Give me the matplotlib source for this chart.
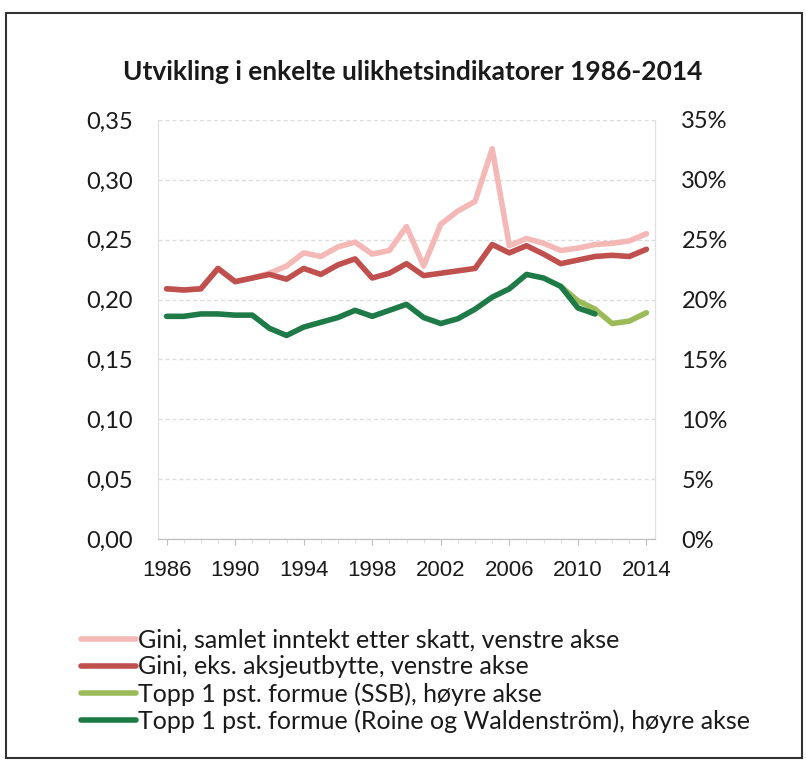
import matplotlib.pyplot as plt
import matplotlib.ticker as mticker
from matplotlib.patches import Rectangle

# Data
years = list(range(1986, 2015))
gini_total = [0.209, 0.208, 0.209, 0.226, 0.215, 0.218, 0.222, 0.228, 0.239, 0.236,
              0.244, 0.248, 0.238, 0.241, 0.261, 0.228, 0.263, 0.274, 0.282, 0.326,
              0.245, 0.251, 0.247, 0.241, 0.243, 0.246, 0.247, 0.249, 0.255]
gini_ex_div = [0.209, 0.208, 0.209, 0.226, 0.215, 0.218, 0.221, 0.217, 0.226, 0.221,
               0.229, 0.234, 0.218, 0.222, 0.230, 0.220, 0.222, 0.224, 0.226, 0.246,
               0.239, 0.245, 0.238, 0.230, 0.233, 0.236, 0.237, 0.236, 0.242]
ssb_years = list(range(2009, 2015))
top1_ssb = [21.1, 19.9, 19.2, 18.0, 18.2, 18.9]
rw_years = list(range(1986, 2012))
top1_rw = [18.6, 18.6, 18.8, 18.8, 18.7, 18.7, 17.6, 17.0, 17.7, 18.1,
           18.5, 19.1, 18.6, 19.1, 19.6, 18.5, 18.0, 18.4, 19.2, 20.2,
           20.9, 22.1, 21.8, 21.1, 19.3, 18.8]

labels = ["Gini, samlet inntekt etter skatt, venstre akse",
          "Gini, eks. aksjeutbytte, venstre akse",
          "Topp 1 pst. formue (SSB), høyre akse",
          "Topp 1 pst. formue (Roine og Waldenström), høyre akse"]
colors = ["#F4B8B6", "#C0504D", "#9BBB59", "#1E7A47"]

fig = plt.figure(figsize=(8.06, 7.62), dpi=100)
ax = fig.add_axes([158 / 806, 1 - 539 / 762, (655 - 158) / 806, (539 - 120) / 762])
ax2 = ax.twinx()

lw = 4
l1, = ax.plot(years, gini_total, color=colors[0], lw=lw, solid_capstyle="round", label=labels[0])
l2, = ax.plot(years, gini_ex_div, color=colors[1], lw=lw, solid_capstyle="round", label=labels[1])
l3, = ax2.plot(ssb_years, top1_ssb, color=colors[2], lw=lw, solid_capstyle="round", label=labels[2])
l4, = ax2.plot(rw_years, top1_rw, color=colors[3], lw=lw, solid_capstyle="round", label=labels[3])

ax.set_xlim(1985.5, 2014.5)
ax.set_ylim(0, 0.35)
ax2.set_ylim(0, 35)
ax.set_yticks([i * 0.05 for i in range(8)])
ax2.set_yticks([i * 5 for i in range(8)])
ax.yaxis.set_major_formatter(mticker.FuncFormatter(lambda v, p: f"{v:.2f}".replace(".", ",")))
ax2.yaxis.set_major_formatter(mticker.FuncFormatter(lambda v, p: f"{v:.0f}%"))
ax.set_xticks(list(range(1986, 2015, 4)))
ax.set_xticks(years, minor=True)

ax.grid(axis="y", color="#DCDCDC", lw=1, ls=(0, (3, 2)))
ax.set_axisbelow(True)

for a in (ax, ax2):
    a.spines["top"].set_visible(False)
    a.spines["left"].set_color("#E0E0E0")
    a.spines["right"].set_color("#E0E0E0")
    a.spines["bottom"].set_color("#BFBFBF")

ax.tick_params(axis="y", length=0, pad=18, labelsize=17, labelcolor="#1A1A1A")
ax2.tick_params(axis="y", length=0, pad=19, labelsize=17, labelcolor="#1A1A1A")
for t in ax.get_yticklabels() + ax2.get_yticklabels():
    t.set_fontfamily("Lato")
ax.tick_params(axis="x", which="major", length=4, color="#BFBFBF", pad=11,
               labelsize=16, labelcolor="#1A1A1A")
ax.tick_params(axis="x", which="minor", length=3, color="#D9D9D9")
for t in ax.get_xticklabels():
    t.set_fontfamily("Liberation Sans")

fig.text(413 / 806, 1 - 72 / 762, "Utvikling i enkelte ulikhetsindikatorer 1986-2014",
         ha="center", va="center", fontsize=19, fontweight="bold", family="Lato",
         color="#1A1A1A")

fig.legend(handles=[l1, l2, l3, l4], loc="upper left",
           bbox_to_anchor=(68 / 806, 1 - 616 / 762), frameon=False, borderpad=0,
           handlelength=2.2, handletextpad=0.1, labelspacing=0.15,
           prop={"family": "Lato", "size": 18}, labelcolor="#1A1A1A")

# outer frame
fig.patches.append(Rectangle((6 / 806, 1 - 758 / 762), 796 / 806, 745 / 762,
                             transform=fig.transFigure, fill=False,
                             edgecolor="#333333", lw=1.5))

fig.savefig("out.png", dpi=100)
